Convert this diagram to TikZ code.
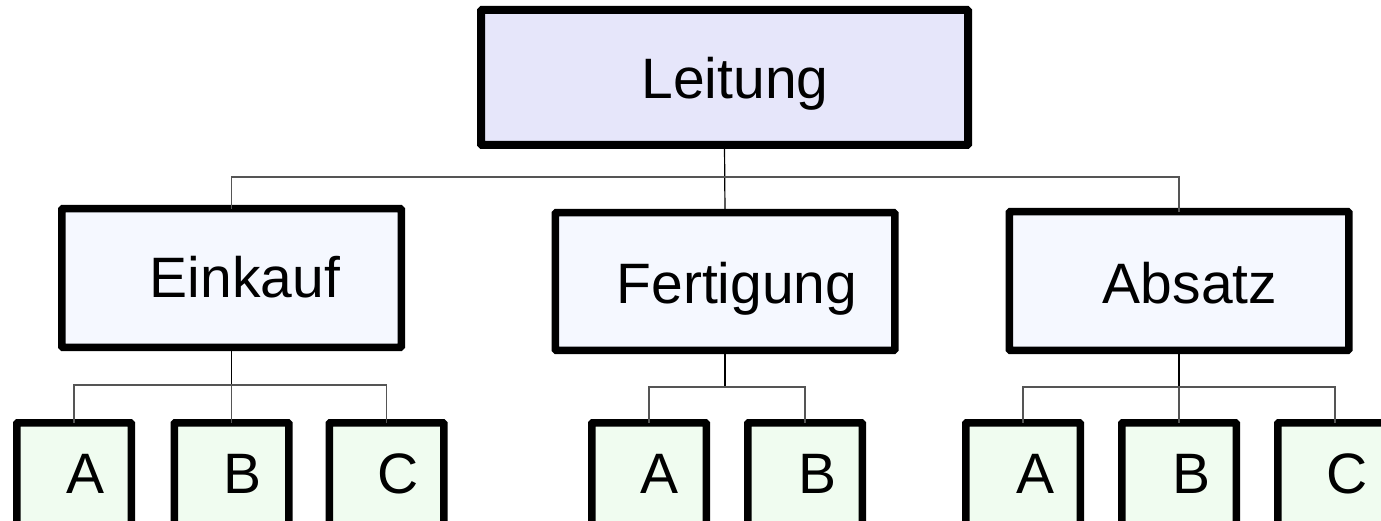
\documentclass[tikz,border=0pt]{standalone}
\usepackage{fontspec}
\setmainfont{Liberation Sans}
\definecolor{topfill}{HTML}{E6E6FA}
\definecolor{midfill}{HTML}{F5F8FF}
\definecolor{subfill}{HTML}{F0FCF0}
\definecolor{busgray}{HTML}{555555}
\begin{document}
\begin{tikzpicture}[x=1pt,y=-1pt,
  box/.style={draw=black, line width=7.5pt, rounded corners=1pt, inner sep=0pt, outer sep=0pt},
  topbox/.style={box, fill=topfill, line width=8pt, minimum width=487pt, minimum height=135pt},
  midbox/.style={box, fill=midfill, minimum width=339.5pt, minimum height=138.5pt},
  subbox/.style={box, fill=subfill, minimum width=114.5pt, minimum height=140pt},
  lbl/.style={anchor=base, inner sep=0pt, font=\fontsize{57}{62}\selectfont},
  trunk/.style={draw=black, line width=1.2pt},
  branch/.style={draw=busgray, line width=1.2pt}]
\useasboundingbox (0,0) rectangle (1381,521);
\clip (0,0) rectangle (1381,521);

\coordinate (b0) at (724.5,177);
\coordinate (b1) at (231.5,385);
\coordinate (b2) at (725,387);
\coordinate (b3) at (1179,387);

% boxes
\node[topbox] (L) at (724.5,77.5) {};
\node[midbox] (E) at (231.5,278) {};
\node[midbox, minimum height=137.5pt] (F) at (725,281.5) {};
\node[midbox] (Ab) at (1179,281) {};

\node[subbox] (EA) at (74,492.75) {};
\node[subbox] (EB) at (231.5,492.75) {};
\node[subbox] (EC) at (386.5,492.75) {};
\node[subbox] (FA) at (649,492.75) {};
\node[subbox] (FB) at (805,492.75) {};
\node[subbox] (AA) at (1023,492.75) {};
\node[subbox] (AB) at (1179,492.75) {};
\node[subbox] (AC) at (1335,492.75) {};

% connectors
\draw[trunk] (L.south) -- (F.north);
\draw[branch] (E.north) |- (b0);
\draw[branch] (Ab.north) |- (b0);

\draw[trunk] (E.south) -- (b1);
\draw[branch] (EA.north) |- (b1) -| (EC.north);
\draw[branch] (b1) -- (EB.north);

\draw[trunk] (F.south) -- (b2);
\draw[branch] (FA.north) |- (b2) -| (FB.north);

\draw[trunk] (Ab.south) -- (b3);
\draw[branch] (AA.north) |- (b3) -| (AC.north);
\draw[branch] (b3) -- (AB.north);

% labels
\node[lbl] (tL) at (735,99) {Leitung};
\node[lbl] (tE) at (245,298) {Einkauf};
\node[lbl] (tF) at (737,303) {Fertigung};
\node[lbl] (tAb) at (1190,303) {Absatz};

\node[lbl] (tEA) at (86,493) {A};
\node[lbl] (tEB) at (243,493) {B};
\node[lbl] (tEC) at (398,493) {C};
\node[lbl] (tFA) at (660,493) {A};
\node[lbl] (tFB) at (817,493) {B};
\node[lbl] (tAA) at (1035,493) {A};
\node[lbl] (tAB) at (1191,493) {B};
\node[lbl] (tAC) at (1347,493) {C};
\end{tikzpicture}
\end{document}
